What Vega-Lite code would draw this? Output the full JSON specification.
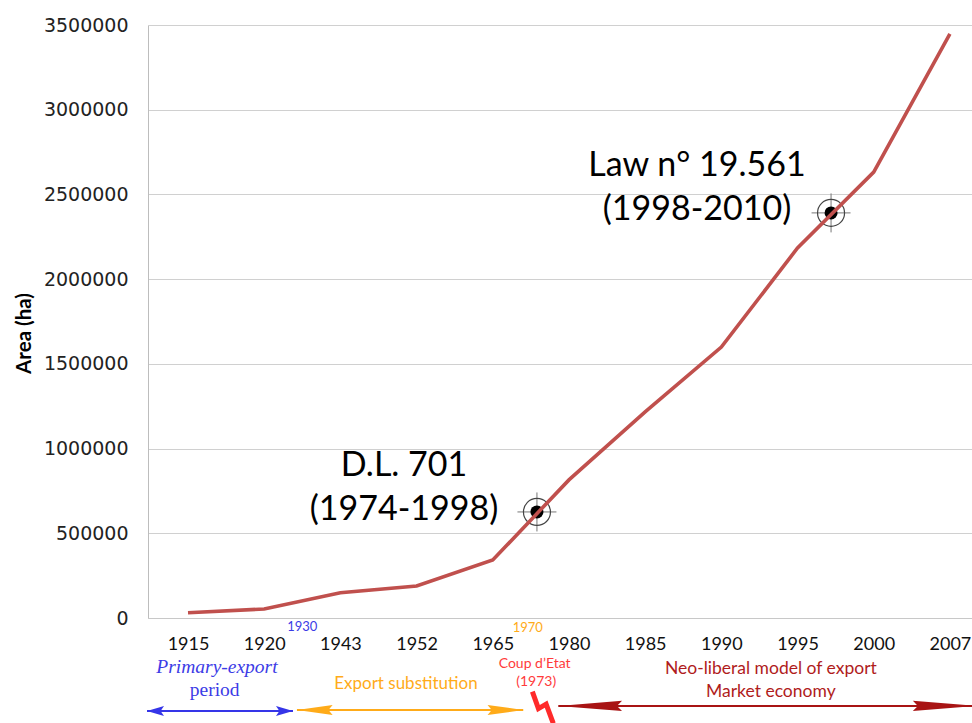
{
  "$schema": "https://vega.github.io/schema/vega-lite/v6.json",
  "width": 824,
  "height": 593,
  "autosize": "none",
  "padding": {"left": 148, "top": 25, "right": 0, "bottom": 105},
  "background": "white",
  "config": {"view": {"stroke": null}},
  "datasets": {
    "area": [
      {"year": "1915", "index": 0, "area": 31000},
      {"year": "1920", "index": 1, "area": 53000},
      {"year": "1943", "index": 2, "area": 149000},
      {"year": "1952", "index": 3, "area": 189000},
      {"year": "1965", "index": 4, "area": 342000},
      {"year": "1980", "index": 5, "area": 815000},
      {"year": "1985", "index": 6, "area": 1216000},
      {"year": "1990", "index": 7, "area": 1599000},
      {"year": "1995", "index": 8, "area": 2184000},
      {"year": "2000", "index": 9, "area": 2632000},
      {"year": "2007", "index": 10, "area": 3447000}
    ],
    "targets": [
      {"law": "D.L. 701", "index": 4.58, "area": 626000},
      {"law": "Law n° 19.561", "index": 8.44, "area": 2391000}
    ],
    "bigLabels": [
      {"text": "D.L. 701", "index": 2.835, "area": 838000},
      {"text": "(1974-1998)", "index": 2.835, "area": 578000},
      {"text": "Law n° 19.561", "index": 6.68, "area": 2609000},
      {"text": "(1998-2010)", "index": 6.68, "area": 2349000}
    ],
    "arrows": [
      {"arrow": "primary", "from": -0.538, "to": 1.378, "area": -549000},
      {"arrow": "substitution", "from": 1.43, "to": 4.4, "area": -543000},
      {"arrow": "neoliberal", "from": 4.86, "to": 10.35, "area": -519000}
    ]
  },
  "layer": [
    {
      "data": {"name": "targets"},
      "mark": {"type": "point", "shape": "M-1,0L1,0M0,-1L0,1", "size": 1521, "filled": false, "stroke": "#777777", "strokeWidth": 1, "opacity": 1},
      "encoding": {
        "x": {
          "field": "index", "type": "quantitative",
          "scale": {"domain": [-0.525, 10.29], "nice": false, "zero": false},
          "axis": {
            "values": [0, 1, 2, 3, 4, 5, 6, 7, 8, 9, 10],
            "labelExpr": "['1915','1920','1943','1952','1965','1980','1985','1990','1995','2000','2007'][datum.value]",
            "title": null, "grid": false, "ticks": false, "domain": true, "domainColor": "#c8c8c8",
            "labelFont": "Lato", "labelFontSize": 18, "labelColor": "#111111", "labelPadding": 17,
            "labelFlush": false, "labelOverlap": false
          }
        },
        "y": {
          "field": "area", "type": "quantitative",
          "scale": {"domain": [0, 3500000], "nice": false, "zero": false},
          "axis": {
            "values": [0, 500000, 1000000, 1500000, 2000000, 2500000, 3000000, 3500000],
            "format": "d", "title": "Area (ha)", "titleFont": "Lato", "titleFontSize": 20.5,
            "titleFontWeight": "bold", "titleColor": "#000000", "titlePadding": 9, "titleY": 308,
            "grid": true, "gridColor": "#d0d0d0", "ticks": false, "domain": true, "domainColor": "#bdbdbd",
            "labelFont": "DejaVu Sans", "labelFontSize": 19, "labelColor": "#222222", "labelPadding": 20
          }
        }
      }
    },
    {
      "data": {"name": "targets"},
      "mark": {"type": "point", "shape": "circle", "size": 729, "filled": false, "stroke": "#444444", "strokeWidth": 1.2, "opacity": 1},
      "encoding": {
        "x": {"field": "index", "type": "quantitative"},
        "y": {"field": "area", "type": "quantitative"}
      }
    },
    {
      "data": {"name": "targets"},
      "mark": {"type": "point", "shape": "circle", "size": 169, "filled": true, "color": "#000000", "opacity": 1},
      "encoding": {
        "x": {"field": "index", "type": "quantitative"},
        "y": {"field": "area", "type": "quantitative"}
      }
    },
    {
      "data": {"name": "area"},
      "mark": {"type": "line", "color": "#c0504d", "strokeWidth": 3.6},
      "encoding": {
        "x": {"field": "index", "type": "quantitative"},
        "y": {"field": "area", "type": "quantitative"}
      }
    },
    {
      "data": {"name": "bigLabels"},
      "mark": {"type": "text", "font": "Lato", "fontSize": 34, "color": "#000000", "align": "center", "baseline": "alphabetic"},
      "encoding": {
        "x": {"field": "index", "type": "quantitative"},
        "y": {"field": "area", "type": "quantitative"},
        "text": {"field": "text", "type": "nominal"}
      }
    },
    {
      "data": {"values": [{"text": "1930", "index": 1.5, "area": -53000}]},
      "mark": {"type": "text", "font": "Lato", "fontSize": 13, "color": "#3c3ce6", "align": "center", "baseline": "middle"},
      "encoding": {
        "x": {"field": "index", "type": "quantitative"},
        "y": {"field": "area", "type": "quantitative"},
        "text": {"field": "text", "type": "nominal"}
      }
    },
    {
      "data": {"values": [{"text": "1970", "index": 4.46, "area": -59000}]},
      "mark": {"type": "text", "font": "Lato", "fontSize": 13, "color": "#ffab19", "align": "center", "baseline": "middle"},
      "encoding": {
        "x": {"field": "index", "type": "quantitative"},
        "y": {"field": "area", "type": "quantitative"},
        "text": {"field": "text", "type": "nominal"}
      }
    },
    {
      "data": {"values": [{"text": "Primary-export", "index": 0.38, "area": -324600}]},
      "mark": {"type": "text", "font": "Liberation Serif", "fontSize": 19.5, "fontStyle": "italic", "color": "#3c3ce6", "align": "center", "baseline": "alphabetic"},
      "encoding": {
        "x": {"field": "index", "type": "quantitative"},
        "y": {"field": "area", "type": "quantitative"},
        "text": {"field": "text", "type": "nominal"}
      }
    },
    {
      "data": {"values": [{"text": "period", "index": 0.35, "area": -460000}]},
      "mark": {"type": "text", "font": "Liberation Serif", "fontSize": 19.5, "color": "#3c3ce6", "align": "center", "baseline": "alphabetic"},
      "encoding": {
        "x": {"field": "index", "type": "quantitative"},
        "y": {"field": "area", "type": "quantitative"},
        "text": {"field": "text", "type": "nominal"}
      }
    },
    {
      "data": {"values": [{"text": "Export substitution", "index": 2.86, "area": -419000}]},
      "mark": {"type": "text", "font": "Lato", "fontSize": 17, "color": "#ffab19", "align": "center", "baseline": "alphabetic"},
      "encoding": {
        "x": {"field": "index", "type": "quantitative"},
        "y": {"field": "area", "type": "quantitative"},
        "text": {"field": "text", "type": "nominal"}
      }
    },
    {
      "data": {"values": [{"text": "Coup d’Etat", "index": 4.55, "area": -295000}, {"text": "(1973)", "index": 4.57, "area": -401000}]},
      "mark": {"type": "text", "font": "Lato", "fontSize": 14, "color": "#ff3b3b", "align": "center", "baseline": "alphabetic"},
      "encoding": {
        "x": {"field": "index", "type": "quantitative"},
        "y": {"field": "area", "type": "quantitative"},
        "text": {"field": "text", "type": "nominal"}
      }
    },
    {
      "data": {"values": [{"text": "Neo-liberal model of export", "index": 7.65, "area": -330500}, {"text": "Market economy", "index": 7.65, "area": -466000}]},
      "mark": {"type": "text", "font": "Lato", "fontSize": 17.5, "color": "#b01c1c", "align": "center", "baseline": "alphabetic"},
      "encoding": {
        "x": {"field": "index", "type": "quantitative"},
        "y": {"field": "area", "type": "quantitative"},
        "text": {"field": "text", "type": "nominal"}
      }
    },
    {
      "data": {"name": "arrows"},
      "mark": {"type": "rule", "strokeWidth": 2},
      "encoding": {
        "x": {"field": "from", "type": "quantitative"},
        "x2": {"field": "to"},
        "y": {"field": "area", "type": "quantitative"},
        "color": {"field": "arrow", "type": "nominal", "scale": {"domain": ["primary", "substitution", "neoliberal"], "range": ["#3535e8", "#ffab19", "#a81414"]}, "legend": null}
      }
    },
    {
      "data": {"name": "arrows"},
      "transform": [{"fold": ["from", "to"], "as": ["end", "index"]}],
      "mark": {"type": "point", "filled": true, "size": 289, "opacity": 1},
      "encoding": {
        "x": {"field": "index", "type": "quantitative"},
        "y": {"field": "area", "type": "quantitative"},
        "color": {"field": "arrow", "type": "nominal", "scale": {"domain": ["primary", "substitution", "neoliberal"], "range": ["#3535e8", "#ffab19", "#a81414"]}, "legend": null},
        "shape": {"field": "arrow", "type": "nominal", "scale": {"domain": ["primary", "substitution", "neoliberal"], "range": ["M0,0L-2,-0.6L-1.6,0L-2,0.6Z", "M0,0L-4.2,-0.6L-3.7,0L-4.2,0.6Z", "M0,0L-7.5,-0.6L-6.9,0L-7.5,0.6Z"]}, "legend": null},
        "angle": {"field": "end", "type": "nominal", "scale": {"domain": ["to", "from"], "range": [0, 180]}, "legend": null}
      }
    },
    {
      "data": {"values": [{"event": "Coup d’Etat", "index": 4.65, "area": -525000}]},
      "mark": {"type": "point", "shape": "M-0.9,-1.4L-0.35,0.15L0.35,-0.25L1,1.5", "size": 484, "filled": false, "stroke": "#ff2a2a", "strokeWidth": 5, "opacity": 1},
      "encoding": {
        "x": {"field": "index", "type": "quantitative"},
        "y": {"field": "area", "type": "quantitative"}
      }
    }
  ]
}
